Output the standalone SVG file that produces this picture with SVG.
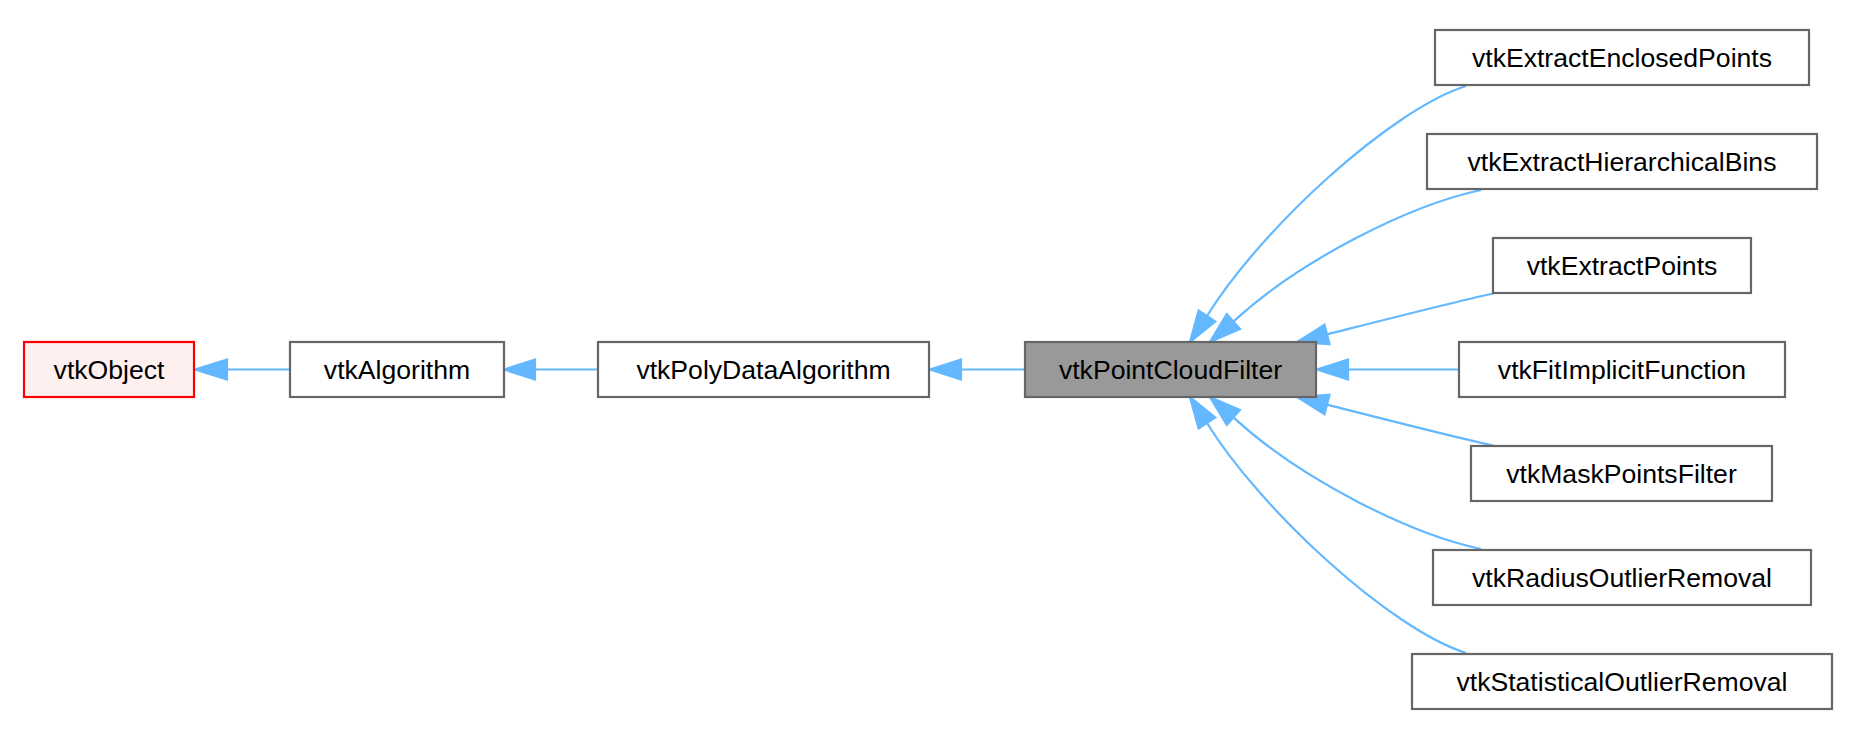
<svg xmlns="http://www.w3.org/2000/svg" width="1851" height="730" viewBox="0 0 1851 730">
<style>
.n rect{fill:#ffffff;stroke:#666666;stroke-width:2.2}
.n text{font-family:"Liberation Sans",Arial,sans-serif;font-size:26.6px;fill:#000000;text-anchor:middle}
#n_object rect{fill:#FFF0F0;stroke:#FF0000}
#n_pcf rect{fill:#999999}
.e path{fill:none;stroke:#63B8FF;stroke-width:2.2}
.e polygon{fill:#63B8FF;stroke:#63B8FF;stroke-width:2.2}
</style>
<rect width="1851" height="730" fill="#ffffff"/>
<g id="edges" class="e">
<path d="M290,369.5 L227,369.5"/><polygon points="227,359.5 195,369.5 227,379.5"/>
<path d="M598,369.5 L535,369.5"/><polygon points="535,359.5 504,369.5 535,379.5"/>
<path d="M1025,369.5 L961,369.5"/><polygon points="961,359.5 930,369.5 961,379.5"/>
<path d="M1459,369.5 L1348,369.5"/><polygon points="1348,359.5 1317,369.5 1348,379.5"/>
<path d="M1466,86 C1390,110 1260,230 1207,316"/><polygon points="1215.4,321.5 1190,342 1198.6,310.5"/>
<path d="M1481,190 C1410,205 1300,260 1233.4,321.6"/><polygon points="1240,329.1 1210,342 1226.8,314.1"/>
<path d="M1495,293 C1450,303 1380,321 1327,334.4"/><polygon points="1329.5,344.1 1297,342 1324.5,324.7"/>
<path d="M1495,446 C1450,436 1380,418 1327,404.6"/><polygon points="1329.5,394.9 1297,397 1324.5,414.3"/>
<path d="M1481,549 C1410,534 1300,479 1233.4,417.4"/><polygon points="1240,409.9 1210,397 1226.8,424.9"/>
<path d="M1466,653 C1390,629 1260,509 1207,423"/><polygon points="1215.4,417.5 1190,397 1198.6,428.5"/>
</g>
<g id="n_object" class="n"><rect x="24" y="342" width="170" height="55"/><text x="109" y="378.5">vtkObject</text></g>
<g id="n_algorithm" class="n"><rect x="290" y="342" width="214" height="55"/><text x="397" y="378.5">vtkAlgorithm</text></g>
<g id="n_polydata" class="n"><rect x="598" y="342" width="331" height="55"/><text x="763.5" y="378.5">vtkPolyDataAlgorithm</text></g>
<g id="n_pcf" class="n"><rect x="1025" y="342" width="291" height="55"/><text x="1170.5" y="378.5">vtkPointCloudFilter</text></g>
<g id="n_enclosed" class="n"><rect x="1435" y="30" width="374" height="55"/><text x="1622" y="66.5">vtkExtractEnclosedPoints</text></g>
<g id="n_hier" class="n"><rect x="1427" y="134" width="390" height="55"/><text x="1622" y="170.5">vtkExtractHierarchicalBins</text></g>
<g id="n_points" class="n"><rect x="1493" y="238" width="258" height="55"/><text x="1622" y="274.5">vtkExtractPoints</text></g>
<g id="n_fit" class="n"><rect x="1459" y="342" width="326" height="55"/><text x="1622" y="378.5">vtkFitImplicitFunction</text></g>
<g id="n_mask" class="n"><rect x="1471" y="446" width="301" height="55"/><text x="1621.5" y="482.5">vtkMaskPointsFilter</text></g>
<g id="n_radius" class="n"><rect x="1433" y="550" width="378" height="55"/><text x="1622" y="586.5">vtkRadiusOutlierRemoval</text></g>
<g id="n_stat" class="n"><rect x="1412" y="654" width="420" height="55"/><text x="1622" y="690.5">vtkStatisticalOutlierRemoval</text></g>
</svg>
